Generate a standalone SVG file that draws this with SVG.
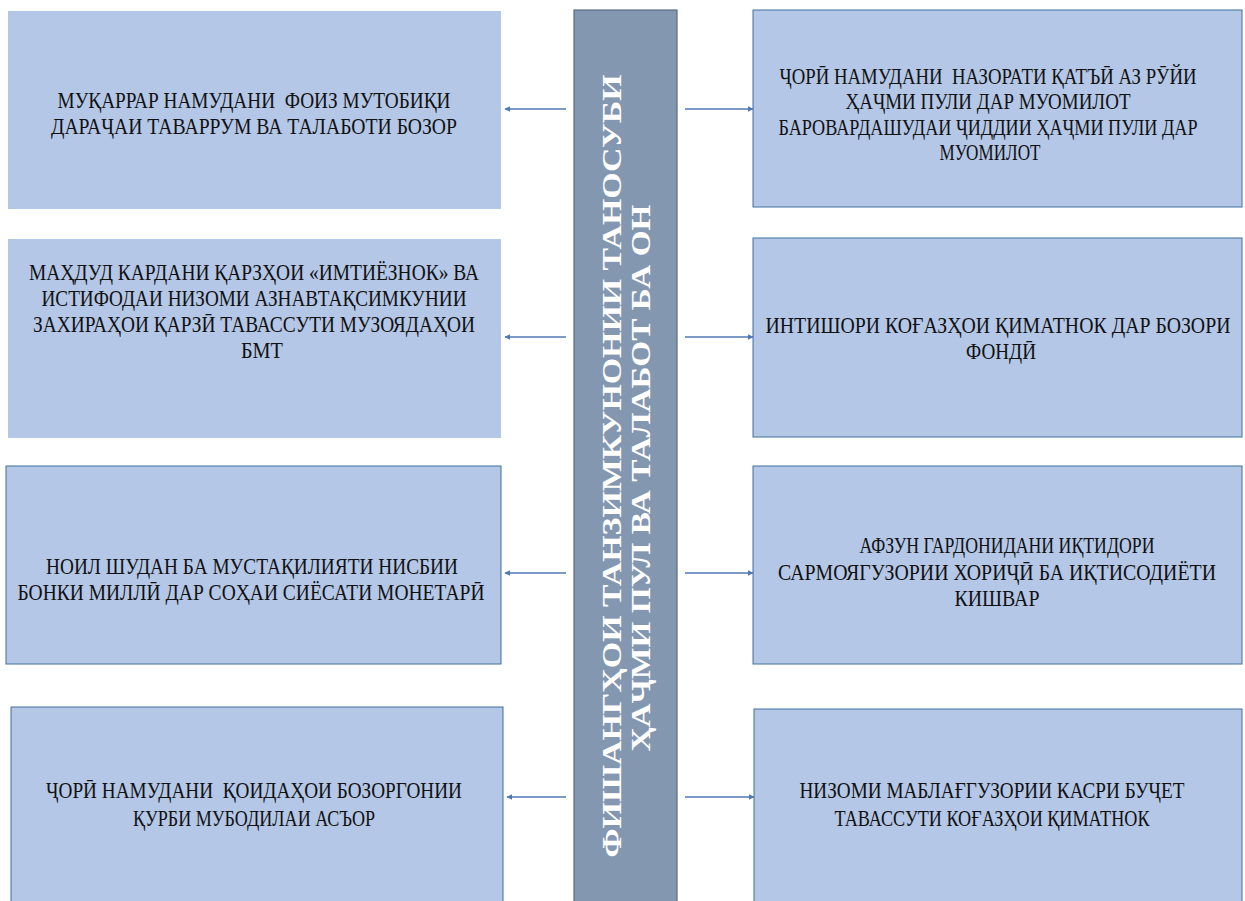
<svg xmlns="http://www.w3.org/2000/svg" width="1245" height="901" viewBox="0 0 1245 901">
<style>
.box{fill:#B4C7E7;}
.bd{stroke:#41719C;stroke-width:1;}
.t{font-family:"Liberation Serif","Times New Roman",serif;font-size:23px;fill:#111;text-anchor:middle;white-space:pre;}
.bt{font-family:"Liberation Serif","Times New Roman",serif;font-size:27px;font-weight:bold;fill:#ffffff;text-anchor:middle;}
.c{stroke:#4F78B5;stroke-width:1.3;fill:none;marker-end:url(#ah);}
</style>
<defs>
<marker id="ah" viewBox="0 0 10 10" refX="9" refY="5" markerWidth="6" markerHeight="6" markerUnits="userSpaceOnUse" orient="auto">
<path d="M0,0 L10,5 L0,10 z" fill="#4F78B5"/>
</marker>
</defs>
<rect width="1245" height="901" fill="#ffffff"/>

<g id="center">
<rect x="574" y="10" width="103" height="895" fill="#8497B0" stroke="#5B6B82" stroke-width="1.2"/>
<text class="bt" transform="translate(621,466) rotate(-90)" textLength="783" lengthAdjust="spacingAndGlyphs">ФИШАНГҲОИ ТАНЗИМКУНОНИИ ТАНОСУБИ</text>
<text class="bt" transform="translate(650,478) rotate(-90)" textLength="547" lengthAdjust="spacingAndGlyphs">ҲАҶМИ ПУЛ ВА ТАЛАБОТ БА ОН</text>
</g>

<g id="left1">
<rect class="box" x="8" y="11" width="493" height="198"/>
<g transform="scale(0.8,1)">
<text class="t" xml:space="preserve" x="317.5" y="108" textLength="491.25" lengthAdjust="spacingAndGlyphs">МУҚАРРАР НАМУДАНИ  ФОИЗ МУТОБИҚИ</text>
<text class="t" x="317.5" y="134" textLength="507.5" lengthAdjust="spacingAndGlyphs">ДАРАҶАИ ТАВАРРУМ ВА ТАЛАБОТИ БОЗОР</text>
</g>
</g>

<g id="left2">
<rect class="box" x="8" y="239" width="493" height="199"/>
<g transform="scale(0.8,1)">
<text class="t" x="317.5" y="280" textLength="562.5" lengthAdjust="spacingAndGlyphs">МАҲДУД КАРДАНИ ҚАРЗҲОИ «ИМТИЁЗНОК» ВА</text>
<text class="t" x="317.5" y="306" textLength="531.25" lengthAdjust="spacingAndGlyphs">ИСТИФОДАИ НИЗОМИ АЗНАВТАҚСИМКУНИИ</text>
<text class="t" x="317.5" y="332" textLength="552.5" lengthAdjust="spacingAndGlyphs">ЗАХИРАҲОИ ҚАРЗӢ ТАВАССУТИ МУЗОЯДАҲОИ</text>
<text class="t" x="327.5" y="358" textLength="52.5" lengthAdjust="spacingAndGlyphs">БМТ</text>
</g>
</g>

<g id="left3">
<rect class="box bd" x="6" y="466" width="495" height="198"/>
<g transform="scale(0.8,1)">
<text class="t" x="315" y="574" textLength="515" lengthAdjust="spacingAndGlyphs">НОИЛ ШУДАН БА МУСТАҚИЛИЯТИ НИСБИИ</text>
<text class="t" x="313.75" y="600" textLength="583.75" lengthAdjust="spacingAndGlyphs">БОНКИ МИЛЛӢ ДАР СОҲАИ СИЁСАТИ МОНЕТАРӢ</text>
</g>
</g>

<g id="left4">
<rect class="box bd" x="11" y="707" width="492" height="200"/>
<g transform="scale(0.8,1)">
<text class="t" xml:space="preserve" x="317.5" y="798" textLength="520" lengthAdjust="spacingAndGlyphs">ҶОРӢ НАМУДАНИ  ҚОИДАҲОИ БОЗОРГОНИИ</text>
<text class="t" x="317.5" y="826" textLength="302.5" lengthAdjust="spacingAndGlyphs">ҚУРБИ МУБОДИЛАИ АСЪОР</text>
</g>
</g>

<g id="right1">
<rect class="box bd" x="753" y="10" width="489" height="197"/>
<g transform="scale(0.8,1)">
<text class="t" xml:space="preserve" x="1235" y="84" textLength="521.25" lengthAdjust="spacingAndGlyphs">ҶОРӢ НАМУДАНИ  НАЗОРАТИ ҚАТЪӢ АЗ РӮЙИ</text>
<text class="t" x="1235" y="109" textLength="356.25" lengthAdjust="spacingAndGlyphs">ҲАҶМИ ПУЛИ ДАР МУОМИЛОТ</text>
<text class="t" x="1235" y="135" textLength="523.75" lengthAdjust="spacingAndGlyphs">БАРОВАРДАШУДАИ ҶИДДИИ ҲАҶМИ ПУЛИ ДАР</text>
<text class="t" x="1237.5" y="160" textLength="126.25" lengthAdjust="spacingAndGlyphs">МУОМИЛОТ</text>
</g>
</g>

<g id="right2">
<rect class="box bd" x="753" y="238" width="489" height="199"/>
<g transform="scale(0.8,1)">
<text class="t" x="1247.5" y="333" textLength="581.25" lengthAdjust="spacingAndGlyphs">ИНТИШОРИ КОҒАЗҲОИ ҚИМАТНОК ДАР БОЗОРИ</text>
<text class="t" x="1251.25" y="359" textLength="87.5" lengthAdjust="spacingAndGlyphs">ФОНДӢ</text>
</g>
</g>

<g id="right3">
<rect class="box bd" x="753" y="466" width="489" height="198"/>
<g transform="scale(0.8,1)">
<text class="t" x="1258.75" y="553" textLength="368.75" lengthAdjust="spacingAndGlyphs">АФЗУН ГАРДОНИДАНИ ИҚТИДОРИ</text>
<text class="t" x="1246.25" y="580" textLength="547.5" lengthAdjust="spacingAndGlyphs">САРМОЯГУЗОРИИ ХОРИҶӢ БА ИҚТИСОДИЁТИ</text>
<text class="t" x="1246.25" y="606" textLength="106.25" lengthAdjust="spacingAndGlyphs">КИШВАР</text>
</g>
</g>

<g id="right4">
<rect class="box bd" x="754" y="709" width="488" height="200"/>
<g transform="scale(0.8,1)">
<text class="t" x="1240" y="798" textLength="481.25" lengthAdjust="spacingAndGlyphs">НИЗОМИ МАБЛАҒГУЗОРИИ КАСРИ БУҶЕТ</text>
<text class="t" x="1240" y="826" textLength="393.75" lengthAdjust="spacingAndGlyphs">ТАВАССУТИ КОҒАЗҲОИ ҚИМАТНОК</text>
</g>
</g>

<g id="connectors">
<line class="c" x1="566" y1="109" x2="505" y2="109"/>
<line class="c" x1="566" y1="337" x2="505" y2="337"/>
<line class="c" x1="566" y1="573" x2="505" y2="573"/>
<line class="c" x1="566" y1="797" x2="507" y2="797"/>
<line class="c" x1="685" y1="109" x2="753" y2="109"/>
<line class="c" x1="685" y1="337" x2="753" y2="337"/>
<line class="c" x1="685" y1="573" x2="753" y2="573"/>
<line class="c" x1="685" y1="797" x2="754" y2="797"/>
</g>
</svg>
